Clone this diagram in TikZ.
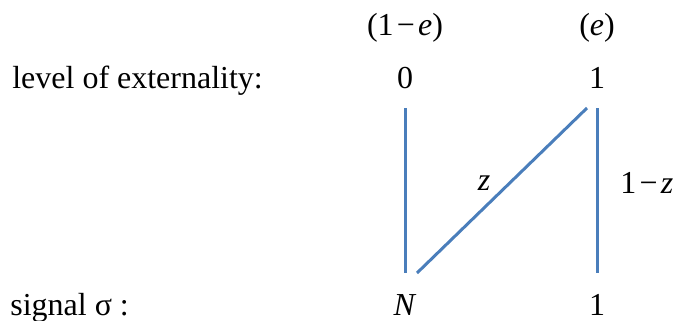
\documentclass[tikz,border=0pt]{standalone}
\usepackage{fontspec}
\setmainfont{Liberation Serif}
\usepackage{xcolor}
\usepackage{tikz}
\usetikzlibrary{positioning}
\definecolor{linkblue}{RGB}{74,126,187}
\newcommand{\mminus}{\kern0.1em−\kern0.1em}

\begin{document}
\begin{tikzpicture}[
  x=1cm,y=1cm,
  font=\fontsize{18.2}{21}\selectfont,
  lbl/.style={anchor=base,inner sep=0pt},
  rowlbl/.style={anchor=base west,inner sep=0pt},
  link/.style={line width=1.7pt,draw=linkblue}
]
\useasboundingbox (0,0) rectangle (13.5,6.4);

% probabilities of the two levels
\node[lbl] (pzero) at (8.1,5.7) {(1\mminus\textit{e})};
\node[lbl] (pone) at (11.94,5.7) {(\textit{e})};

% levels and signals
\node[rowlbl] (ext) at (0.24,4.64) {level of externality:};
\node[lbl] (ezero) at (8.1,4.64) {0};
\node[lbl] (eone) at (11.94,4.64) {1};

\node[rowlbl] (sig) at (0.2,0.1) {signal σ :};
\node[lbl] (sn) at (8.1,0.1) {\textit{N}};
\node[lbl] (sone) at (11.94,0.1) {1};

% ends of the links
\coordinate (ltop) at (8.11,4.24);
\coordinate (lbot) at (8.11,0.94);
\coordinate (rtop) at (11.95,4.24);
\coordinate (rbot) at (11.95,0.94);
\coordinate (dtop) at (11.74,4.24);
\coordinate (dbot) at (8.34,0.94);

\draw[link] (ltop) -- (lbot);
\draw[link] (rtop) -- (rbot);
\draw[link] (dbot) -- (dtop);

\node[lbl] (zlbl) at (9.68,2.6) {\textit{z}};
\node[rowlbl] (zrest) at (12.4,2.54) {1\mminus\textit{z}};
\end{tikzpicture}
\end{document}
